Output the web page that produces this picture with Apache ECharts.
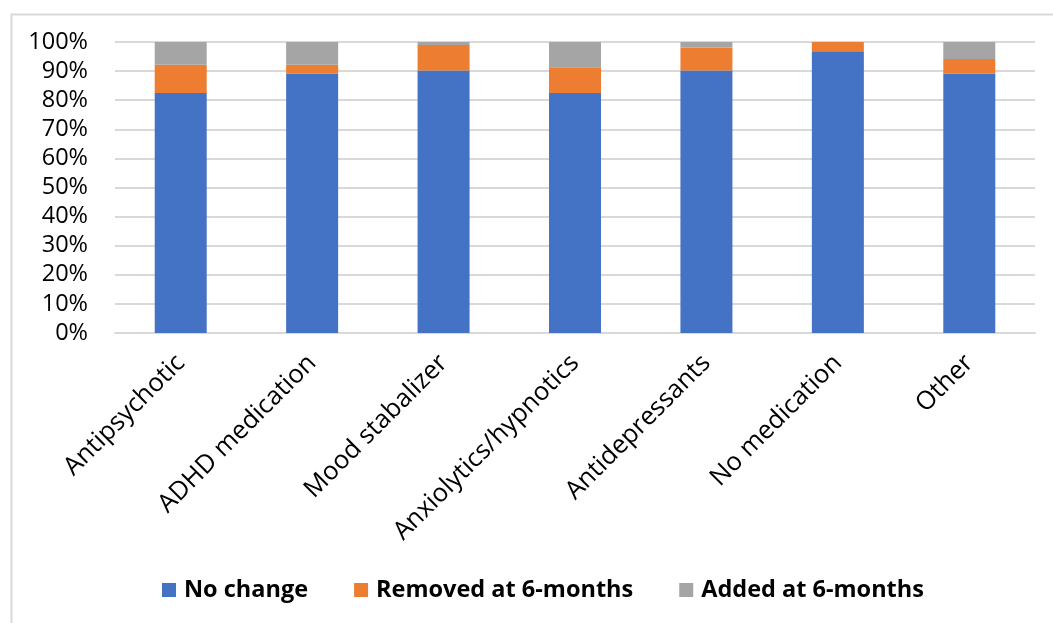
<!DOCTYPE html>
<html>
<head>
<meta charset="utf-8">
<script src="https://cdn.jsdelivr.net/npm/echarts@6/dist/echarts.min.js"></script>
<style>
  html, body { margin: 0; padding: 0; background: #fff; }
  #chart { width: 1053px; height: 623px; }
</style>
</head>
<body>
<div id="chart"></div>
<script>
// Medication categories along the x axis
var categories = ['Antipsychotic', 'ADHD medication', 'Mood stabalizer',
  'Anxiolytics/hypnotics', 'Antidepressants', 'No medication', 'Other'];

// Share of patients (%) per category
var noChange = [82.5, 89.2, 90.2, 82.5, 90.2, 96.8, 89.2];
var removed  = [9.7, 3.0, 8.8, 8.8, 7.9, 3.2, 5.0];
var added    = [7.8, 7.8, 1.0, 8.7, 1.9, 0.0, 5.8];

var seriesNames = ['No change', 'Removed at 6-months', 'Added at 6-months'];
var seriesColors = ['#4472C4', '#ED7D31', '#A5A5A5'];
var seriesData = [noChange, removed, added];

var FONT = '"Open Sans", "Noto Sans", sans-serif';

var chart = echarts.init(document.getElementById('chart'), null, { renderer: 'canvas' });

chart.setOption({
  backgroundColor: '#ffffff',
  animation: false,
  graphic: [{
    type: 'rect',
    left: 9, top: 12,
    shape: { width: 1200, height: 800 },
    style: { fill: 'none', stroke: '#d9d9d9', lineWidth: 2 },
    silent: true
  }],
  grid: { left: 115, right: 18, top: 42, bottom: 290, containLabel: false },
  legend: {
    data: seriesNames,
    bottom: 16,
    left: 157,
    itemWidth: 14,
    itemHeight: 14,
    itemGap: 46,
    icon: 'rect',
    textStyle: {
      fontFamily: FONT, fontSize: 23.5, fontWeight: 'bold', color: '#000',
      padding: [0, 0, 0, 3]
    }
  },
  xAxis: {
    type: 'category',
    data: categories,
    axisLine: { show: true, lineStyle: { color: '#d9d9d9', width: 2 } },
    axisTick: { show: false },
    axisLabel: {
      rotate: 45, interval: 0, margin: 26,
      fontFamily: FONT, fontSize: 25.5, color: '#000'
    }
  },
  yAxis: {
    type: 'value',
    min: 0, max: 100, interval: 10,
    axisLine: { show: false },
    axisTick: { show: false },
    splitLine: { lineStyle: { color: '#d9d9d9', width: 2 } },
    axisLabel: {
      formatter: '{value}%', margin: 27,
      fontFamily: FONT, fontSize: 23.5, color: '#000'
    }
  },
  series: seriesData.map(function (d, i) {
    return {
      name: seriesNames[i],
      type: 'bar',
      stack: 'total',
      barWidth: 52,
      data: d,
      itemStyle: { color: seriesColors[i] }
    };
  })
});
</script>
</body>
</html>
